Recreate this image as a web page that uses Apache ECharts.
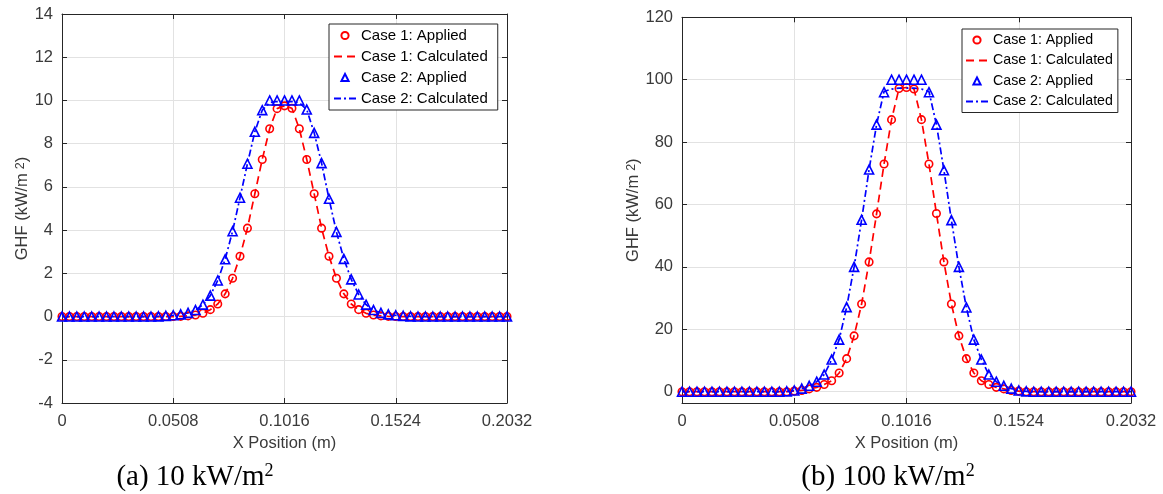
<!DOCTYPE html>
<html><head><meta charset="utf-8">
<script src="https://cdn.jsdelivr.net/npm/echarts@6/dist/echarts.min.js"></script>
<style>html,body{margin:0;padding:0;background:#fff}#c{width:1163px;height:494px}</style>
</head><body><div id="c"></div>
<script>
// ---------- DATA ----------
const xPos = [0, 0.00339, 0.00677, 0.01016, 0.01355, 0.01693, 0.02032, 0.02371, 0.02709, 0.03048,
  0.03387, 0.03725, 0.04064, 0.04403, 0.04741, 0.0508, 0.05419, 0.05757, 0.06096, 0.06435,
  0.06773, 0.07112, 0.07451, 0.07789, 0.08128, 0.08467, 0.08805, 0.09144, 0.09483, 0.09821,
  0.1016, 0.10499, 0.10837, 0.11176, 0.11515, 0.11853, 0.12192, 0.12531, 0.12869, 0.13208,
  0.13547, 0.13885, 0.14224, 0.14563, 0.14901, 0.1524, 0.15579, 0.15917, 0.16256, 0.16595,
  0.16933, 0.17272, 0.17611, 0.17949, 0.18288, 0.18627, 0.18965, 0.19304, 0.19643, 0.19981, 0.2032];
const xTickLabels = ['0', '0.0508', '0.1016', '0.1524', '0.2032'];
const yTicksA = [-4, -2, 0, 2, 4, 6, 8, 10, 12, 14];
const yTicksB = [0, 20, 40, 60, 80, 100, 120];
const seriesNames = ['Case 1: Applied', 'Case 1: Calculated', 'Case 2: Applied', 'Case 2: Calculated'];
const captions = ['(a) 10 kW/m{sup|2}', '(b) 100 kW/m{sup|2}'];

// plot (a) 10 kW/m2
const a_case1Applied = [0,0,0,0,0,0,0,0,0,0, 0,0,0,0,0,0,0.01,0.03,0.07,0.15,
  0.32,0.58,1.05,1.77,2.79,4.09,5.68,7.27,8.69,9.62, 9.75,
  9.64,8.69,7.27,5.68,4.09,2.79,1.77,1.05,0.58,0.32, 0.15,0.07,0.03,0.01,0,0,0,0,0,0, 0,0,0,0,0,0,0,0,0,0];
const a_case1Calc = [0,0,0,0,0,0,0,0,0,0, 0,0,0,0,0,0,0.01,0.03,0.07,0.15,
  0.32,0.58,1.05,1.77,2.79,4.09,5.68,7.27,8.69,9.62, 9.75,
  9.64,8.69,7.27,5.68,4.09,2.79,1.77,1.05,0.58,0.32, 0.15,0.07,0.03,0.01,0,0,0,0,0,0, 0,0,0,0,0,0,0,0,0,0];
const a_case2Applied = [0,0,0,0,0,0,0,0,0,0, 0,0,0,0.01,0.03,0.06,0.1,0.17,0.3,0.55,
  0.97,1.67,2.65,3.95,5.5,7.07,8.55,9.55,10,10, 10,
  10,10,9.58,8.5,7.1,5.45,3.92,2.67,1.72,1.02, 0.55,0.3,0.17,0.1,0.06,0.03,0.01,0,0,0, 0,0,0,0,0,0,0,0,0,0];
const a_case2Calc = [0,0,0,0,0,0,0,0,0,0, 0,0,0,0.01,0.03,0.06,0.1,0.17,0.3,0.55,
  0.97,1.67,2.65,3.95,5.5,7.07,8.55,9.55,9.9,9.95, 9.95,
  9.95,9.9,9.58,8.5,7.1,5.45,3.92,2.67,1.72,1.02, 0.55,0.3,0.17,0.1,0.06,0.03,0.01,0,0,0, 0,0,0,0,0,0,0,0,0,0];

// plot (b) 100 kW/m2
const b_case1Applied = [0,0,0,0,0,0,0,0,0,0, 0,0,0,0,0,0.2,0.4,0.9,1.4,2.3,
  3.5,6.0,10.6,17.9,28.1,41.6,57.0,73.0,87.2,97.2, 97.5,
  97.0,87.2,73.0,57.1,41.6,28.1,17.9,10.6,6.0,3.5, 2.3,1.4,0.9,0.4,0.2,0,0,0,0,0, 0,0,0,0,0,0,0,0,0,0];
const b_case1Calc = [0,0,0,0,0,0,0,0,0,0, 0,0,0,0,0,0.2,0.4,0.9,1.4,2.3,
  3.5,6.0,10.6,17.9,28.1,41.6,57.0,73.0,87.2,97.2, 97.5,
  97.0,87.2,73.0,57.1,41.6,28.1,17.9,10.6,6.0,3.5, 2.3,1.4,0.9,0.4,0.2,0,0,0,0,0, 0,0,0,0,0,0,0,0,0,0];
const b_case2Applied = [0,0,0,0,0,0,0,0,0,0, 0,0,0,0,0.1,0.4,1.0,1.9,3.2,5.5,
  10.3,16.7,27.1,40.0,55.1,71.2,85.6,96.0,100,100, 100,
  100,100,96.0,85.6,71.0,55.0,40.0,27.0,16.7,10.3, 5.5,3.2,1.9,1.0,0.4,0.1,0,0,0,0, 0,0,0,0,0,0,0,0,0,0];
const b_case2Calc = [0,0,0,0,0,0,0,0,0,0, 0,0,0,0,0.1,0.4,1.0,1.9,3.2,5.5,
  10.3,16.7,27.1,40.0,55.1,71.2,85.6,96.2,97.0,97.3, 97.3,
  97.3,97.0,96.2,85.6,71.0,55.0,40.0,27.0,16.7,10.3, 5.5,3.2,1.9,1.0,0.4,0.1,0,0,0,0, 0,0,0,0,0,0,0,0,0,0];

// ---------- STYLE / BUILD ----------
const axisColor = '#262626';
const labelColor = '#3a3a3a';
const gridColor = '#e2e2e2';
const font = 'Liberation Sans, Arial, Helvetica, sans-serif';
const RED = '#ff0000', BLUE = '#0000ff';

const grids = [
  {left: 62, top: 14, width: 445, height: 389},
  {left: 682, top: 17.3, width: 449, height: 385.7}
];
const yRanges = [{min: -4, max: 14, ticks: yTicksA}, {min: -3.62, max: 120, ticks: yTicksB}];

function fmtX(v) {
  const s = String(+(+v).toFixed(4));
  const idx = xTickLabels.indexOf(s);
  return idx >= 0 ? xTickLabels[idx] : s;
}

const xAxis = [], yAxis = [];
grids.forEach((g, gi) => {
  const xb = {type: 'value', gridIndex: gi, min: 0, max: 0.2032, interval: 0.0508,
    axisLine: {show: true, onZero: false, lineStyle: {color: axisColor, width: 1}},
    axisTick: {show: true, inside: true, length: 5, lineStyle: {color: axisColor}}};
  xAxis.push(Object.assign({}, xb, {position: 'bottom',
    axisLabel: {show: true, margin: 10, fontSize: 16.5, color: labelColor, fontFamily: font,
      formatter: fmtX, showMinLabel: true, showMaxLabel: true, hideOverlap: false},
    splitLine: {show: true, lineStyle: {color: gridColor, width: 1}},
    name: 'X Position (m)', nameLocation: 'middle', nameGap: 30,
    nameTextStyle: {fontSize: 16.5, color: labelColor, fontFamily: font}}));
  xAxis.push(Object.assign({}, xb, {position: 'top', axisLabel: {show: false}, splitLine: {show: false}}));

  const yr = yRanges[gi];
  const yb = {type: 'value', gridIndex: gi, min: yr.min, max: yr.max,
    axisLine: {show: true, onZero: false, lineStyle: {color: axisColor, width: 1}},
    axisTick: {show: true, inside: true, length: 5, lineStyle: {color: axisColor}, customValues: yr.ticks}};
  yAxis.push(Object.assign({}, yb, {position: 'left',
    axisLabel: {show: true, margin: 9, fontSize: 16.5, color: labelColor, fontFamily: font,
      customValues: yr.ticks, showMinLabel: true, showMaxLabel: true, hideOverlap: false},
    splitLine: {show: true, lineStyle: {color: gridColor, width: 1}},
    name: 'GHF (kW/m{sup|2})', nameLocation: 'middle', nameGap: gi === 0 ? 31 : 39,
    nameTextStyle: {fontSize: 16.5, color: labelColor, fontFamily: font,
      rich: {sup: {fontSize: 12.5, verticalAlign: 'top', padding: [0, 0, 4, 4], fontFamily: font, color: labelColor}}}}));
  yAxis.push(Object.assign({}, yb, {position: 'right', axisLabel: {show: false}, splitLine: {show: false}}));
});

function mk(name, gi, ys, kind) {
  const data = xPos.map((x, i) => [x, ys[i]]);
  const s = {name, type: 'line', xAxisIndex: gi * 2, yAxisIndex: gi * 2, data,
    animation: false, silent: true, smooth: false};
  if (kind === 'c1a' || kind === 'c2a') {
    const col = kind === 'c1a' ? RED : BLUE;
    Object.assign(s, {symbol: kind === 'c1a' ? 'circle' : 'triangle', symbolSize: kind === 'c1a' ? 7.5 : 9,
      showSymbol: true, itemStyle: {color: 'rgba(0,0,0,0)', borderColor: col, borderWidth: 1.6},
      lineStyle: {width: 0, opacity: 0, color: col}});
  } else {
    const col = kind === 'c1c' ? RED : BLUE;
    Object.assign(s, {symbol: 'none', showSymbol: false, itemStyle: {color: col},
      lineStyle: {width: 1.7, color: col, type: kind === 'c1c' ? [8, 5] : [7, 3, 2, 3]}});
  }
  return s;
}

const series = [
  mk(seriesNames[0], 0, a_case1Applied, 'c1a'),
  mk(seriesNames[1], 0, a_case1Calc, 'c1c'),
  mk(seriesNames[2], 0, a_case2Applied, 'c2a'),
  mk(seriesNames[3], 0, a_case2Calc, 'c2c'),
  mk(seriesNames[0], 1, b_case1Applied, 'c1a'),
  mk(seriesNames[1], 1, b_case1Calc, 'c1c'),
  mk(seriesNames[2], 1, b_case2Applied, 'c2a'),
  mk(seriesNames[3], 1, b_case2Calc, 'c2c')
];

function legendAt(left, top, fs, gap, pad) {
  return {show: true, orient: 'vertical', left, top, itemWidth: 22, itemHeight: 9, itemGap: gap,
    padding: pad, borderColor: axisColor, borderWidth: 1, backgroundColor: '#fff',
    selectedMode: false, textStyle: {fontSize: fs, color: '#000', fontFamily: font},
    data: [
      {name: seriesNames[0], lineStyle: {opacity: 0, width: 0}},
      {name: seriesNames[1], itemStyle: {opacity: 0}},
      {name: seriesNames[2], lineStyle: {opacity: 0, width: 0}},
      {name: seriesNames[3], itemStyle: {opacity: 0}}
    ]};
}

const captionStyle = (text, x) => ({type: 'text', x, y: 477, silent: true,
  style: {text, fill: '#000', fontFamily: 'Liberation Serif', fontSize: 29, align: 'center', verticalAlign: 'middle',
    rich: {sup: {fontSize: 18, verticalAlign: 'top', fontFamily: 'Liberation Serif', fill: '#000'}}}});

const option = {
  backgroundColor: '#fff',
  animation: false,
  grid: grids.map(g => Object.assign({containLabel: false, outerBoundsMode: 'none', show: false}, g)),
  xAxis, yAxis, series,
  legend: [legendAt(329, 24, 15, 6, [4, 10, 4, 4]), legendAt(962, 29, 14.2, 6.5, [4, 5, 4, 3])],
  graphic: [captionStyle(captions[0], 195), captionStyle(captions[1], 888)]
};

const chart = echarts.init(document.getElementById('c'), null, {renderer: 'canvas'});
chart.setOption(option);
</script></body></html>
